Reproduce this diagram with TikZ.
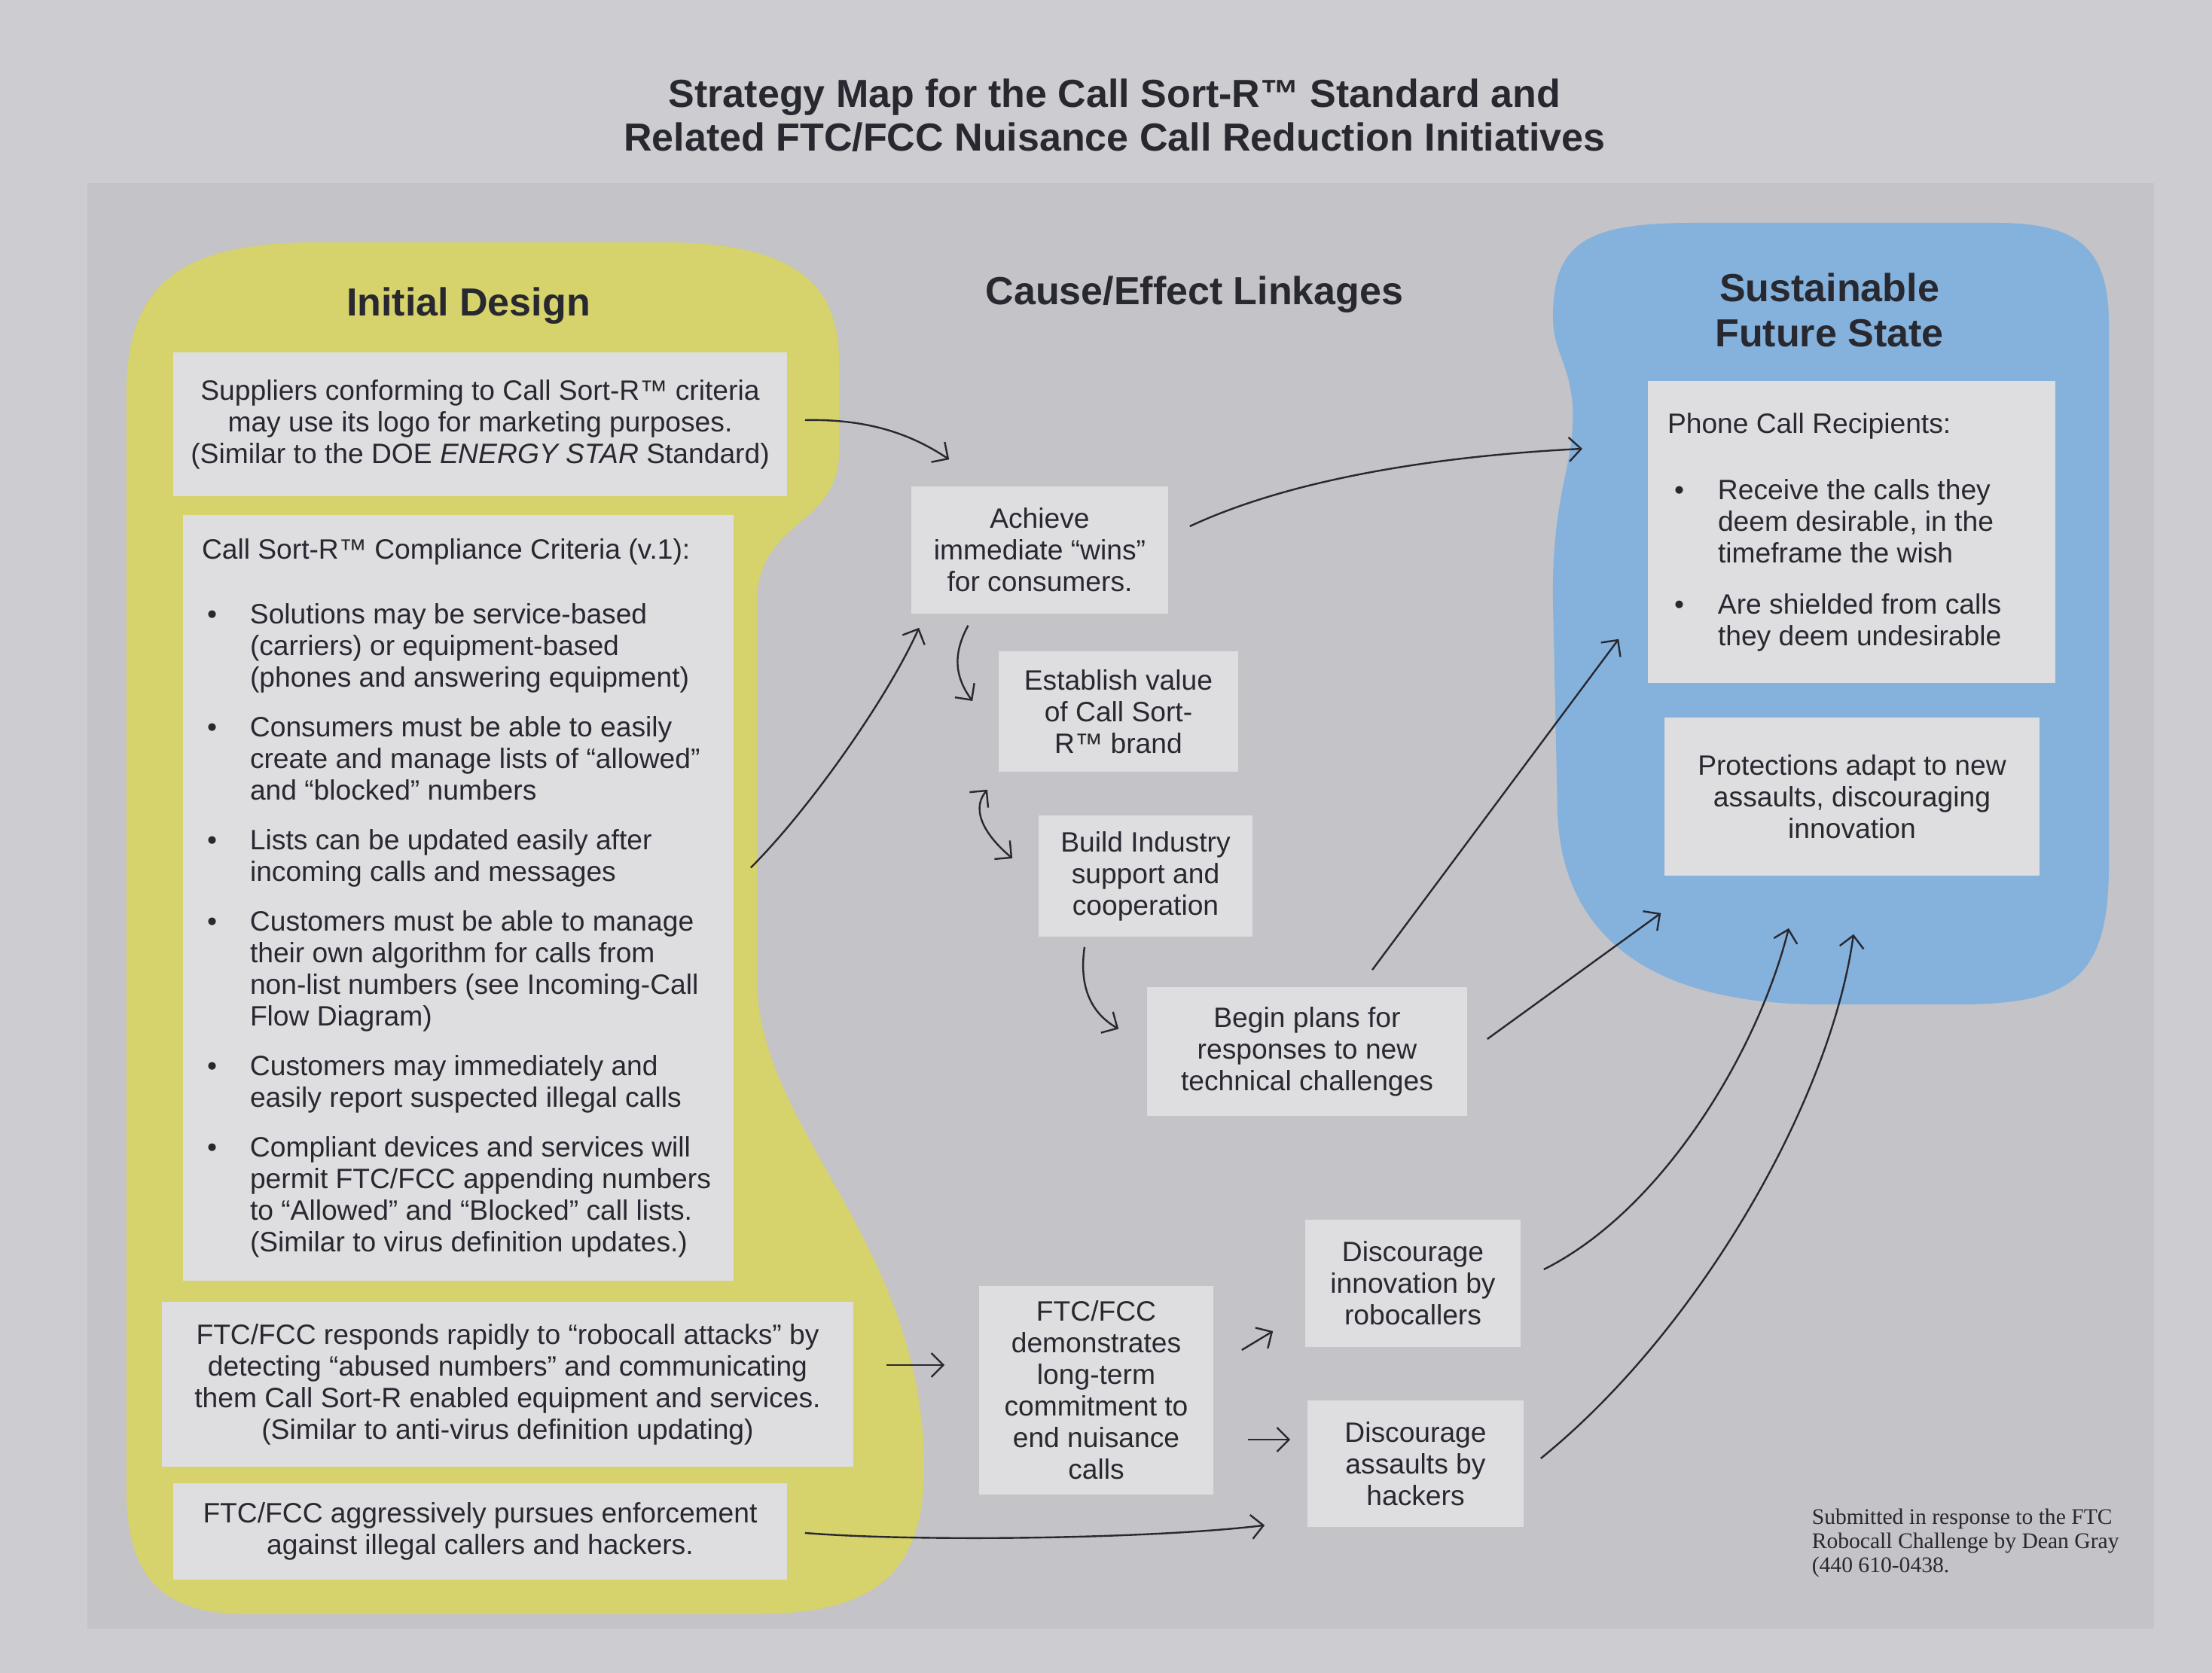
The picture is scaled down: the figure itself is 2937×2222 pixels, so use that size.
\documentclass[tikz,border=0pt]{standalone}
\usepackage{fontspec}
\setmainfont{Liberation Sans}
\newfontfamily\serifnote{Liberation Serif}
\usetikzlibrary{arrows.meta,calc}
\definecolor{pagec}{RGB}{205,205,209}
\definecolor{panelc}{RGB}{195,195,200}
\definecolor{boxc}{RGB}{222,222,225}
\definecolor{yelc}{RGB}{214,210,108}
\definecolor{bluc}{RGB}{132,178,220}
\definecolor{inkc}{RGB}{40,40,48}
\newcommand\critbul{\makebox[16pt][l]{\hspace*{1.75pt}\textbullet}}
\newcommand\critind{\hspace*{16pt}}
\newcommand\recbul{\makebox[16.75pt][l]{\hspace*{2.25pt}\textbullet}}
\newcommand\recind{\hspace*{16.75pt}}
\begin{document}
\begin{tikzpicture}[x=0.25pt,y=-0.25pt,
  box/.style={fill=boxc, inner sep=0pt, align=center, text=inkc, font=\fontsize{9.3}{10.5}\selectfont},
  head/.style={font=\bfseries\fontsize{13}{15}\selectfont, text=inkc, align=center},
  arr/.style={draw=inkc, line width=0.6pt, -{Straight Barb[length=4pt,width=8pt]}},
  darr/.style={draw=inkc, line width=0.6pt, {Straight Barb[length=4pt,width=8pt]}-{Straight Barb[length=4pt,width=8pt]}},
]
% page and panel
\fill[pagec] (0,0) rectangle (2937,2222);
\useasboundingbox (0,0) rectangle (2937,2222);
\fill[panelc] (116,243) rectangle (2860,2163);

% yellow blob
\fill[yelc] (168,520) .. controls (168,370) and (250,322) .. (420,322) -- (880,322)
  .. controls (1060,322) and (1114,380) .. (1114,480) -- (1114,600)
  .. controls (1114,700) and (1005,690) .. (1005,800) -- (1005,1300)
  .. controls (1005,1500) and (1227,1650) .. (1227,1950)
  .. controls (1227,2100) and (1150,2144) .. (1000,2144) -- (330,2144)
  .. controls (220,2144) and (168,2100) .. (168,1980) -- cycle;

% blue blob
\fill[bluc] (2062,420) .. controls (2062,320) and (2110,296) .. (2250,296) -- (2650,296)
  .. controls (2760,296) and (2800,330) .. (2800,430) -- (2800,1150)
  .. controls (2800,1300) and (2750,1334) .. (2600,1334) -- (2420,1334)
  .. controls (2200,1334) and (2075,1250) .. (2068,1080) -- (2062,800)
  .. controls (2060,650) and (2092,620) .. (2088,540)
  .. controls (2084,480) and (2062,470) .. (2062,420) -- cycle;

% title and headings
\node[head, font=\bfseries\fontsize{13}{14.5}\selectfont] (title) at (1480,153)
  {Strategy Map for the Call Sort-R™ Standard and\\Related FTC/FCC Nuisance Call Reduction Initiatives};
\node[head] (hinit) at (622,406) {Initial Design};
\node[head] (hcause) at (1586,391) {Cause/Effect Linkages};
\node[head] (hsust) at (2429,412) {Sustainable\\Future State};

% left boxes
\node[box, minimum width=203.75pt, minimum height=47.75pt] (sup) at (637.5,563.5)
  {Suppliers conforming to Call Sort-R™ criteria\\may use its logo for marketing purposes.\\(Similar to the DOE \textit{ENERGY STAR} Standard)};
\node[box, align=left, inner xsep=6.25pt, minimum width=182.75pt, minimum height=254.25pt] (crit) at (608.5,1192.5)
  {\makebox[170.25pt][l]{Call Sort-R™ Compliance Criteria (v.1):}\\[11pt]
   \critbul Solutions may be service-based\\
   \critind (carriers) or equipment-based\\
   \critind (phones and answering equipment)\\[6pt]
   \critbul Consumers must be able to easily\\
   \critind create and manage lists of “allowed”\\
   \critind and “blocked” numbers\\[6pt]
   \critbul Lists can be updated easily after\\
   \critind incoming calls and messages\\[6pt]
   \critbul Customers must be able to manage\\
   \critind their own algorithm for calls from\\
   \critind non-list numbers (see Incoming-Call\\
   \critind Flow Diagram)\\[6pt]
   \critbul Customers may immediately and\\
   \critind easily report suspected illegal calls\\[6pt]
   \critbul Compliant devices and services will\\
   \critind permit FTC/FCC appending numbers\\
   \critind to “Allowed” and “Blocked” call lists.\\
   \critind (Similar to virus definition updates.)};
\node[box, minimum width=229.5pt, minimum height=54.75pt] (resp) at (674,1838.5)
  {FTC/FCC responds rapidly to “robocall attacks” by\\detecting “abused numbers” and communicating\\them Call Sort-R enabled equipment and services.\\(Similar to anti-virus definition updating)};
\node[box, minimum width=203.75pt, minimum height=32pt] (enf) at (637.5,2034)
  {FTC/FCC aggressively pursues enforcement\\against illegal callers and hackers.};

% middle boxes
\node[box, minimum width=85.25pt, minimum height=42.25pt] (ach) at (1380.5,730.5)
  {Achieve\\immediate “wins”\\for consumers.};
\node[box, minimum width=79.5pt, minimum height=40pt] (est) at (1485,945)
  {Establish value\\of Call Sort-\\R™ brand};
\node[box, minimum width=71pt, minimum height=40.25pt] (bld) at (1521,1163.5)
  {Build Industry\\support and\\cooperation};
\node[box, minimum width=106.25pt, minimum height=42.75pt] (beg) at (1735.5,1396.5)
  {Begin plans for\\responses to new\\technical challenges};
\node[box, minimum width=77.75pt, minimum height=69.25pt] (dem) at (1455.5,1846.5)
  {FTC/FCC\\demonstrates\\long-term\\commitment to\\end nuisance\\calls};
\node[box, minimum width=71.5pt, minimum height=42.25pt] (dri) at (1876,1704.5)
  {Discourage\\innovation by\\robocallers};
\node[box, minimum width=71.75pt, minimum height=42pt] (das) at (1879.5,1944)
  {Discourage\\assaults by\\hackers};

% right boxes
\node[box, align=left, inner xsep=6.5pt, minimum width=135.25pt, minimum height=100.25pt] (rec) at (2458.5,706.5)
  {\makebox[122.25pt][l]{Phone Call Recipients:}\\[11.5pt]
   \recbul Receive the calls they\\
   \recind deem desirable, in the\\
   \recind timeframe the wish\\[6.5pt]
   \recbul Are shielded from calls\\
   \recind they deem undesirable};
\node[box, minimum width=124.5pt, minimum height=52.5pt] (pro) at (2459,1058)
  {Protections adapt to new\\assaults, discouraging\\innovation};

% footnote
\node[anchor=west, inner sep=0pt, align=left, text=inkc, font=\serifnote\fontsize{7.4}{8}\selectfont] (note) at (2405,2049)
  {Submitted in response to the FTC\\Robocall Challenge by Dean Gray\\(440 610-0438.};

% free end in the blue region
\coordinate (blueleft) at (2101,596);

% connectors
\draw[arr] ($(sup.east)+(23,-5.5)$) .. controls +(90,-2) and +(-45,-30) .. ($(ach.north west)+(51,-35)$);
\draw[arr] ($(crit.east)+(22,-40)$) .. controls +(80,-80) and +(-40,90) .. ($(ach.south west)+(11,18)$);
\draw[arr] ($(ach.east)+(28,-31.5)$) .. controls +(150,-70) and +(-160,8) .. (blueleft);
\draw[arr] ($(ach.south)+(-95,15)$) .. controls +(-22,40) and +(-22,-30) .. ($(est.west)+(-34,-14)$);
\draw[darr] ($(est.south)+(-174,23)$) .. controls +(-25,30) and +(-30,-25) .. ($(bld.west)+(-34,-23.5)$);
\draw[arr] ($(bld.south)+(-81,13)$) .. controls +(-8,55) and +(-35,-20) .. ($(beg.west)+(-37,-30)$);
\draw[arr] ($(beg.north)+(86.5,-22)$) -- ($(rec.south west)+(-38,-59)$);
\draw[arr] ($(beg.east)+(26,-16.5)$) -- ($(pro.south west)+(-4,49)$);
\draw[arr] ($(resp.east)+(43,-25.5)$) -- ($(dem.west)+(-45,-33.5)$);
\draw[arr] ($(dem.east)+(37,-53.5)$) -- ($(dri.west)+(-42,63.5)$);
\draw[arr] ($(dem.east)+(45,65.5)$) -- ($(das.west)+(-22,-32)$);
\draw[arr] ($(enf.east)+(23,2)$) .. controls +(150,12) and +(-150,18) .. ($(das.south west)+(-56,-3)$);
\draw[arr] ($(dri.east)+(30,-18.5)$) .. controls +(160,-80) and +(-40,160) .. ($(pro.south)+(-84,69)$);
\draw[arr] ($(das.east)+(22,-7)$) .. controls +(210,-170) and +(-30,220) .. ($(pro.south)+(2,77)$);
\end{tikzpicture}
\end{document}
